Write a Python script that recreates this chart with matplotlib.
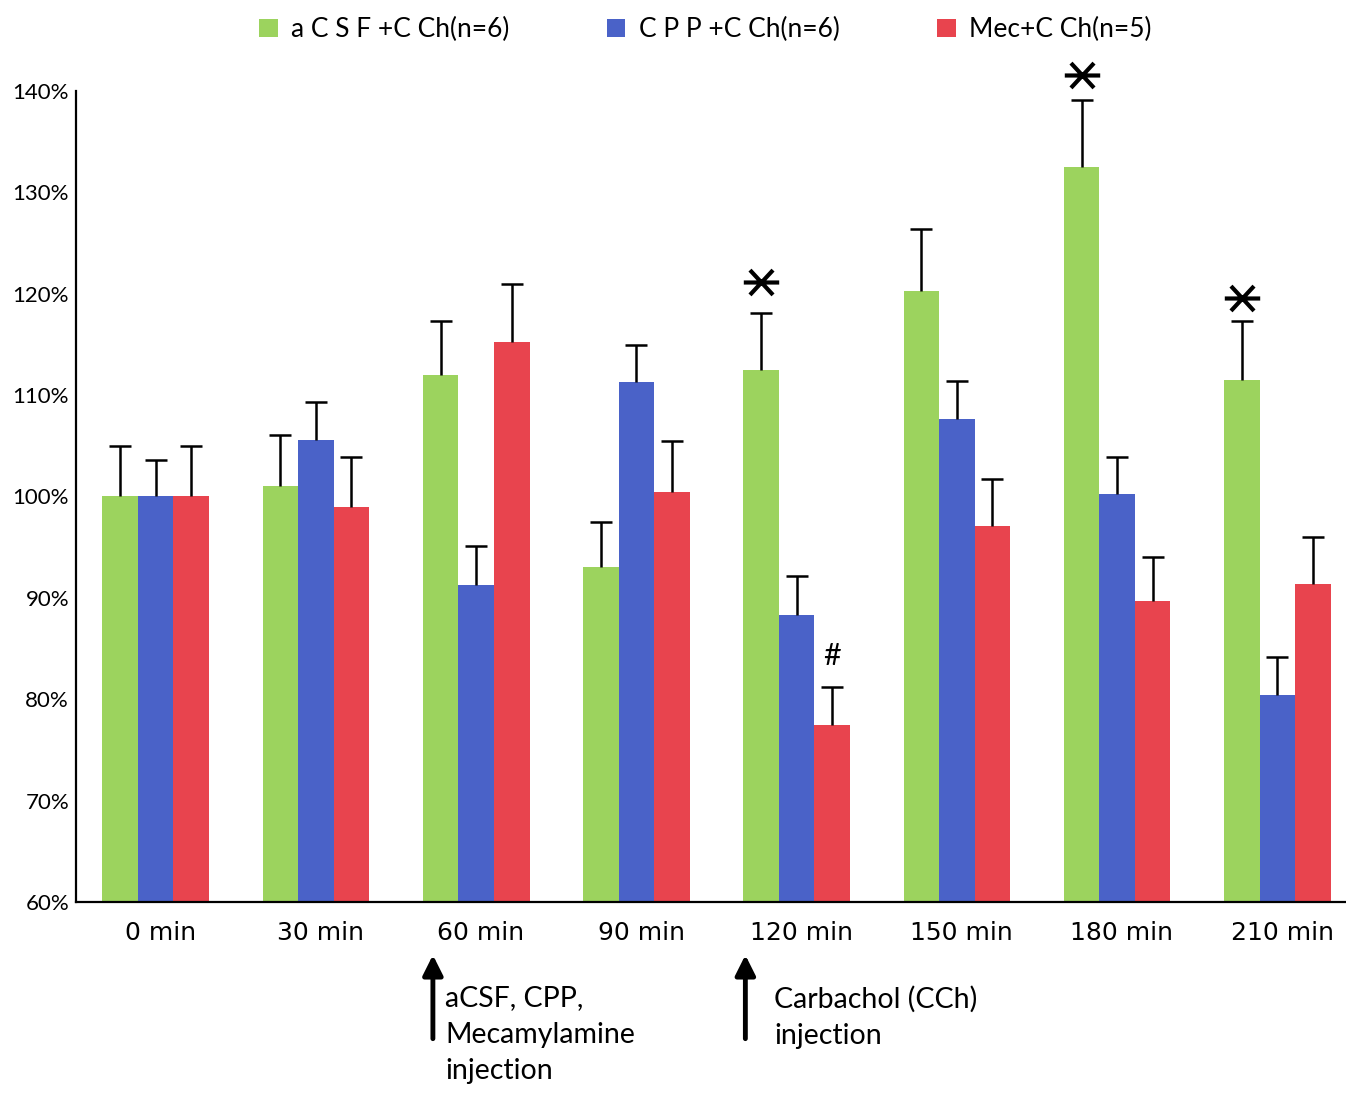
"""
Bar chart of response over time for aCSF / CPP / Mecamylamine + CCh groups.
"""

import matplotlib
matplotlib.use("Agg")
import matplotlib.pyplot as plt
from matplotlib.path import Path
import numpy as np

times = ["0 min", "30 min", "60 min", "90 min", "120 min", "150 min", "180 min", "210 min"]
groups = ["a C S F +C Ch(n=6)", "C P P +C Ch(n=6)", "Mec+C Ch(n=5)"]

acsf = [100, 101, 112, 93, 112.5, 120.3, 132.5, 111.5]
acsf_top = [105, 106.1, 117.3, 97.5, 118.1, 126.4, 139.1, 117.3]
cpp = [100, 105.6, 91.3, 111.3, 88.3, 107.6, 100.2, 80.4]
cpp_top = [103.6, 109.3, 95.1, 114.9, 92.2, 111.4, 103.9, 84.2]
mec = [100, 99, 115.2, 100.4, 77.5, 97.1, 89.7, 91.4]
mec_top = [105, 103.9, 121.0, 105.5, 81.2, 101.7, 94.0, 96.0]

star_idx = [4, 6, 7]          # aCSF significant points
star_y = [121.2, 141.6, 119.6]
hash_idx = [4]                # Mec significant point
hash_y = [82.9]

colors = ["#9cd35e", "#4a62c8", "#e8444e"]

# flat asterisk: horizontal stroke plus a wide X
star_path = Path([(-1, 0), (1, 0), (-0.65, -0.7), (0.65, 0.7), (-0.65, 0.7), (0.65, -0.7)],
                 [Path.MOVETO, Path.LINETO] * 3)

fig = plt.figure(figsize=(13.46, 10.95), dpi=100)
ax = fig.add_axes([0.0565, 0.1763, 0.9425, 0.7406])

x = np.arange(len(times))
w = 0.222
series = [(acsf, acsf_top), (cpp, cpp_top), (mec, mec_top)]
for k, (vals, tops) in enumerate(series):
    pos = x + (k - 1) * w - 0.03
    ax.bar(pos, np.array(vals) - 60, bottom=60, width=w, color=colors[k], label=groups[k])
    # upper error bar only
    ax.vlines(pos, vals, tops, color="black", lw=1.8, zorder=3)
    ax.scatter(pos, tops, marker="_", s=260, color="black", linewidths=1.8, zorder=3)

ax.scatter(x[star_idx] - w - 0.03, star_y, marker=star_path, s=650, color="black",
           linewidths=3, clip_on=False, zorder=5)
for i, yv in zip(hash_idx, hash_y):
    ax.text(x[i] + w - 0.03, yv, "#", ha="center", va="bottom", fontsize=22,
            family="Lato")

ax.set_xlim(-0.527, 7.39)
ax.set_ylim(60, 140)
ax.set_yticks(np.arange(60, 141, 10))
ax.set_yticklabels([f"{v}%" for v in range(60, 141, 10)], family="Lato", fontsize=16)
ax.set_xticks(x)
ax.set_xticklabels(times, fontsize=18, family="DejaVu Sans")
ax.tick_params(axis="y", length=0, pad=5)
ax.tick_params(axis="x", length=0, pad=14)
for s in ["top", "right"]:
    ax.spines[s].set_visible(False)
ax.spines["left"].set_linewidth(1.6)
ax.spines["bottom"].set_linewidth(1.6)

# injection arrows below the axis
tr = ax.get_xaxis_transform()
for xa in [1.70, 3.65]:
    ax.annotate("", xy=(xa, -0.062), xytext=(xa, -0.172), xycoords=tr, textcoords=tr,
                arrowprops=dict(arrowstyle="-|>", color="black", lw=3.5, mutation_scale=30),
                annotation_clip=False)
ax.text(1.775, -0.103, "aCSF, CPP,\nMecamylamine\ninjection", transform=tr, ha="left", va="top",
        fontsize=20.5, family="Lato", linespacing=1.5)
ax.text(3.83, -0.103, "Carbachol (CCh)\ninjection", transform=tr, ha="left", va="top",
        fontsize=20.5, family="Lato", linespacing=1.5)

fig.legend(loc="upper center", bbox_to_anchor=(0.524, 1.006), ncol=3, frameon=False,
           handlelength=0.7, handleheight=0.7, handletextpad=0.5, columnspacing=3.7,
           prop=dict(family="Lato", size=19))

fig.savefig("out.png", dpi=100)
